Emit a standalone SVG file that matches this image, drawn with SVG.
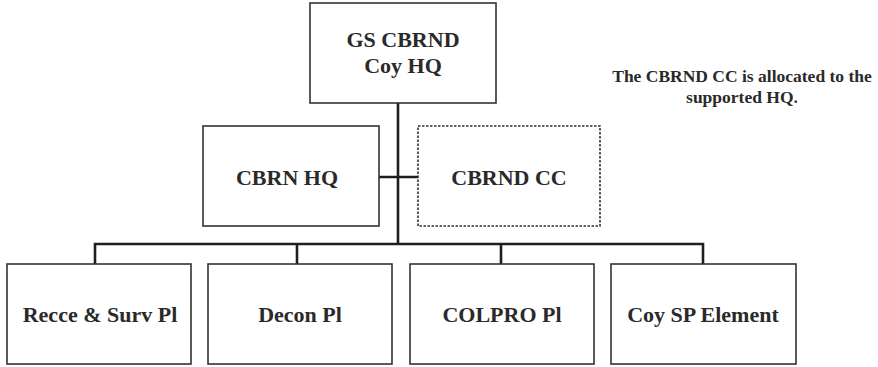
<svg xmlns="http://www.w3.org/2000/svg" width="878" height="367" viewBox="0 0 878 367">
<style>
.box{fill:#fff;stroke:#333;stroke-width:1.6}
.dot{fill:#fff;stroke:#333;stroke-width:1.6;stroke-dasharray:2.5 1.5}
.lbl{font-family:"Liberation Serif","Times New Roman",serif;font-weight:bold;font-size:22px;fill:#2a2a2a;text-anchor:middle}
.note{font-family:"Liberation Serif","Times New Roman",serif;font-weight:bold;font-size:17.5px;fill:#2a2a2a;text-anchor:middle}
.con{fill:none;stroke:#1e1e1e;stroke-width:2.6}
</style>
<rect width="878" height="367" fill="#fff"/>
<g id="connectors">
<path class="con" d="M398,103 V244"/>
<path class="con" d="M379,177 H418"/>
<path class="con" d="M95,264 V244 H703 V264"/>
<path class="con" d="M297,244 V264"/>
<path class="con" d="M501,244 V264"/>
</g>
<g id="gs-cbrnd-coy-hq">
<rect class="box" x="310" y="3" width="186" height="100"/>
<text class="lbl" x="403" y="47">GS CBRND</text>
<text class="lbl" x="403" y="73">Coy HQ</text>
</g>
<g id="cbrn-hq">
<rect class="box" x="203" y="126" width="176" height="100"/>
<text class="lbl" x="287" y="185">CBRN HQ</text>
</g>
<g id="cbrnd-cc">
<rect class="dot" x="418" y="126" width="182" height="100"/>
<text class="lbl" x="509" y="185">CBRND CC</text>
</g>
<g id="recce-surv-pl">
<rect class="box" x="7" y="264" width="184" height="100"/>
<text class="lbl" x="100" y="322">Recce &amp; Surv Pl</text>
</g>
<g id="decon-pl">
<rect class="box" x="208" y="264" width="184" height="100"/>
<text class="lbl" x="300" y="322">Decon Pl</text>
</g>
<g id="colpro-pl">
<rect class="box" x="410" y="264" width="184" height="100"/>
<text class="lbl" x="502" y="322">COLPRO Pl</text>
</g>
<g id="coy-sp-element">
<rect class="box" x="611" y="264" width="185" height="100"/>
<text class="lbl" x="703" y="322">Coy SP Element</text>
</g>
<g id="note">
<text class="note" x="742" y="82">The CBRND CC is allocated to the</text>
<text class="note" x="742" y="103">supported HQ.</text>
</g>
</svg>
